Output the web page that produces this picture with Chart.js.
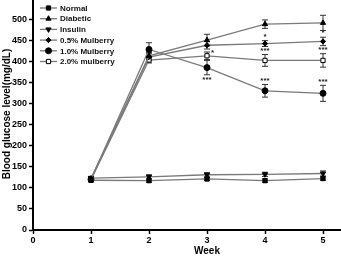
<!DOCTYPE html>
<html>
<head>
<meta charset="utf-8">
<script src="https://cdn.jsdelivr.net/npm/chart.js@4"></script>
<style>
    html, body { margin: 0; padding: 0; background: #fff; overflow: hidden; }
    #wrap { position: absolute; left: 0; top: -10px; width: 390px; height: 268px; }
</style>
</head>
<body>
<div id="wrap"><canvas id="chart" width="390" height="268"></canvas></div>
<script>
// weeks on the x axis
const weeks = [1, 2, 3, 4, 5];

// mean blood glucose (mg/dL) per group
const normal     = [118, 117, 121, 117, 122];
const diabetic   = [122, 413, 450, 488, 491];
const insulin    = [123, 126, 131, 132, 134];
const mulberry05 = [121, 410, 438, 442, 447];
const mulberry10 = [120, 428, 385, 330, 324];
const mulberry20 = [119, 403, 413, 402, 402];

// error bars (+/-)
const normalErr     = [4, 4, 4, 4, 4];
const diabeticErr   = [5, 8, 14, 10, 18];
const insulinErr    = [4, 5, 5, 5, 6];
const mulberry05Err = [4, 8, 9, 7, 10];
const mulberry10Err = [5, 16, 17, 15, 19];
const mulberry20Err = [4, 7, 9, 14, 16];

// significance marks: dataset index, week, text, side
const marks = [
    [5, 3, '*', 'right'],
    [4, 3, '***', 'below'],
    [3, 4, '*', 'above'],
    [5, 4, '***', 'above'],
    [4, 4, '***', 'above'],
    [3, 5, '*', 'above'],
    [5, 5, '***', 'above'],
    [4, 5, '***', 'above']
];

const yTicks = [0, 50, 100, 150, 200, 250, 300, 350, 400, 450, 500, 550];

const FONT = '"Liberation Sans", Arial, sans-serif';
const LINE = '#7a7a7a';

function pts(vals) {
    return vals.map((v, i) => ({ x: weeks[i], y: v }));
}

function series(label, vals, err, style, extra) {
    return Object.assign({
        label: label,
        data: pts(vals),
        err: err,
        borderColor: LINE,
        borderWidth: 1.3,
        pointStyle: style,
        pointRadius: 3,
        pointBackgroundColor: '#000',
        pointBorderColor: '#000',
        pointBorderWidth: 1,
        tension: 0
    }, extra || {});
}

const errorBars = {
    id: 'errorBars',
    beforeDatasetsDraw(chart) {
        const ctx = chart.ctx;
        const y = chart.scales.y;
        ctx.save();
        ctx.strokeStyle = '#333';
        ctx.lineWidth = 1;
        chart.data.datasets.forEach((ds, di) => {
            const meta = chart.getDatasetMeta(di);
            meta.data.forEach((p, i) => {
                const v = ds.data[i].y, e = ds.err[i];
                const top = y.getPixelForValue(v + e);
                const bot = y.getPixelForValue(v - e);
                ctx.beginPath();
                ctx.moveTo(p.x, top); ctx.lineTo(p.x, bot);
                ctx.moveTo(p.x - 3, top); ctx.lineTo(p.x + 3, top);
                ctx.moveTo(p.x - 3, bot); ctx.lineTo(p.x + 3, bot);
                ctx.stroke();
            });
        });
        ctx.restore();
    },
    afterDraw(chart) {
        const ctx = chart.ctx;
        const y = chart.scales.y;
        ctx.save();
        ctx.fillStyle = '#222';
        ctx.font = 'bold 8px ' + FONT;
        marks.forEach(m => {
            const ds = chart.data.datasets[m[0]];
            const i = weeks.indexOf(m[1]);
            const p = chart.getDatasetMeta(m[0]).data[i];
            const v = ds.data[i].y, e = ds.err[i];
            ctx.textBaseline = 'top';
            if (m[3] === 'above') {
                ctx.textAlign = 'center';
                ctx.fillText(m[2], p.x, y.getPixelForValue(v + e) - 8);
            } else if (m[3] === 'below') {
                ctx.textAlign = 'center';
                ctx.fillText(m[2], p.x, y.getPixelForValue(v - e) + 1);
            } else {
                ctx.textAlign = 'left';
                ctx.fillText(m[2], p.x + 4, p.y - 7);
            }
        });

        // legend, top-left inside the plot
        const x0 = 40, y0 = 18, step = 10.7;
        ctx.textAlign = 'left';
        ctx.textBaseline = 'middle';
        chart.data.datasets.forEach((ds, di) => {
            const ry = y0 + di * step;
            ctx.strokeStyle = LINE;
            ctx.lineWidth = 1.3;
            ctx.beginPath();
            ctx.moveTo(x0, ry); ctx.lineTo(x0 + 17, ry);
            ctx.stroke();
            ctx.fillStyle = ds.pointBackgroundColor;
            ctx.strokeStyle = '#000';
            ctx.lineWidth = 1;
            Chart.helpers.drawPoint(ctx, {
                pointStyle: ds.pointStyle,
                radius: ds.pointRadius,
                rotation: ds.pointRotation || 0,
                borderWidth: 1
            }, x0 + 8.5, ry);
            ctx.fillStyle = '#111';
            ctx.font = 'bold 8px ' + FONT;
            ctx.fillText(ds.label, x0 + 20, ry + 0.5);
        });
        ctx.restore();
    }
};

const datasets = [
    series('Normal', normal, normalErr, 'rect'),
    series('Diabetic', diabetic, diabeticErr, 'triangle'),
    series('Insulin', insulin, insulinErr, 'triangle', { pointRotation: 180 }),
    series('0.5% Mulberry', mulberry05, mulberry05Err, 'rectRot', { pointRadius: 2.6 }),
    series('1.0% Mulberry', mulberry10, mulberry10Err, 'circle'),
    series('2.0% mulberry', mulberry20, mulberry20Err, 'rect', { pointBackgroundColor: '#fff' })
];

new Chart(document.getElementById('chart'), {
    type: 'line',
    data: { datasets: datasets },
    options: {
        responsive: false,
        animation: false,
        layout: { padding: { top: 8, right: 9, left: 0, bottom: 0 } },
        plugins: {
            legend: { display: false },
            tooltip: { enabled: false }
        },
        scales: {
            x: {
                type: 'linear',
                min: 0,
                max: 6,
                afterFit(scale) { scale.height = 28; },
                border: { display: true, color: '#000', width: 2 },
                grid: { drawOnChartArea: false, color: '#000', tickLength: 4, tickWidth: 1.5 },
                ticks: {
                    stepSize: 1,
                    color: '#000',
                    padding: 1,
                    font: { family: FONT, size: 9, weight: 'bold' }
                },
                title: {
                    display: true,
                    text: 'Week',
                    color: '#000',
                    padding: { top: 1, bottom: 1 },
                    font: { family: FONT, size: 10, weight: 'bold' }
                }
            },
            y: {
                min: 0,
                max: 550,
                afterFit(scale) { scale.width = 33; },
                afterBuildTicks(scale) { scale.ticks = yTicks.map(v => ({ value: v })); },
                border: { display: true, color: '#000', width: 2 },
                grid: { drawOnChartArea: false, color: '#000', tickLength: 4, tickWidth: 1.5 },
                ticks: {
                    color: '#000',
                    padding: 2,
                    font: { family: FONT, size: 9, weight: 'bold' }
                },
                title: {
                    display: true,
                    text: 'Blood glucose level(mg/dL)',
                    color: '#000',
                    padding: { top: 1, bottom: 0 },
                    font: { family: FONT, size: 10, weight: 'bold' }
                }
            }
        }
    },
    plugins: [errorBars]
});
</script>
</body>
</html>
